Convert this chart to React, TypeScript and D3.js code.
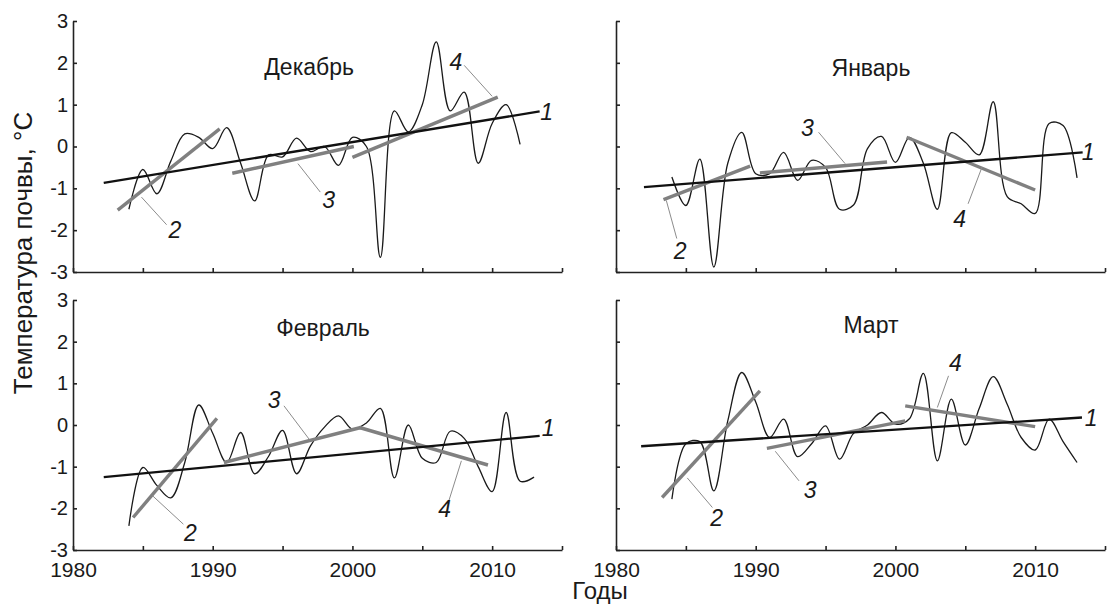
import React, { useEffect, useRef } from 'react';
import * as d3 from 'd3';

const YEARS = [
  1984, 1985, 1986, 1987, 1988, 1989, 1990, 1991, 1992, 1993,
  1994, 1995, 1996, 1997, 1998, 1999, 2000, 2001, 2002, 2003,
  2004, 2005, 2006, 2007, 2008, 2009, 2010, 2011, 2012, 2013
];

// soil temperature anomalies, °C (Dec series ends in 2012)
const DEC_VALUES = [
  -1.5, -0.55, -1.13, -0.35, 0.3, 0.22, -0.05, 0.45, -0.4, -1.3,
  -0.2, -0.25, 0.2, -0.12, 0.0, -0.45, 0.22, 0.0, -2.65, 0.85,
  0.35, 1.0, 2.5, 0.85, 1.3, -0.4, 0.55, 1.0, 0.05
];
const JAN_VALUES = [
  -0.73, -1.41, -0.3, -2.88, -0.4, 0.34, -0.65, -0.65, -0.14, -0.81,
  -0.33, -0.5, -1.5, -1.4, -0.05, 0.24, -0.38, 0.22, -0.4, -1.5,
  0.33, 0.1, -0.2, 1.07, -1.2, -1.37, -1.6, 0.55, 0.5, -0.75
];
const FEB_VALUES = [
  -2.42, -1.02, -1.45, -1.75, -0.9, 0.48, -0.2, -0.9, -0.18, -1.17,
  -0.75, -0.13, -1.17, -0.5, -0.05, 0.22, -0.1, 0.05, 0.4, -1.27,
  0.0, -0.8, -0.9, -0.15, -0.32, -1.0, -1.6, 0.3, -1.35, -1.25
];
const MAR_VALUES = [
  -1.78, -0.45, -0.4, -1.58, 0.1, 1.26, 0.55, -0.3, 0.14, -0.76,
  -0.45, -0.02, -0.82, -0.2, 0.0, 0.3, 0.02, 0.15, 1.24, -0.86,
  0.62, -0.48, 0.4, 1.16, 0.5, -0.3, -0.6, 0.14, -0.4, -0.9
];

// trends: [year1, value1, year2, value2]; first is the whole-period trend (1)
const DEC_TRENDS = [
  [1982.2, -0.87, 2013.4, 0.84],
  [1983.2, -1.52, 1990.5, 0.42],
  [1991.4, -0.64, 2000.1, 0.0],
  [2000.0, -0.26, 2010.4, 1.18]
];
const JAN_TRENDS = [
  [1982.0, -0.97, 2013.4, -0.14],
  [1983.4, -1.27, 1989.6, -0.47],
  [1990.3, -0.63, 1999.4, -0.37],
  [2000.8, 0.22, 2010.0, -1.04]
];
const FEB_TRENDS = [
  [1982.2, -1.25, 2013.4, -0.26],
  [1984.3, -2.22, 1990.3, 0.16],
  [1990.8, -0.9, 2000.6, -0.06],
  [2000.5, -0.06, 2009.7, -0.96]
];
const MAR_TRENDS = [
  [1981.8, -0.51, 2013.35, 0.18],
  [1983.3, -1.74, 1990.3, 0.82],
  [1990.8, -0.56, 2000.7, 0.1],
  [2000.7, 0.46, 2010.0, -0.04]
];

// number labels: [text, year, value, leader (year1, value1, year2, value2) or null]
const DEC_LABELS = [
  ['1', 2013.9, 0.82, null],
  ['2', 1987.3, -2.0, [1984.9, -1.21, 1986.7, -1.87]],
  ['3', 1998.3, -1.28, [1996.1, -0.41, 1997.7, -1.09]],
  ['4', 2007.4, 2.02, [2008.0, 1.94, 2010.0, 1.2]]
];
const JAN_LABELS = [
  ['1', 2013.8, -0.14, null],
  ['2', 1984.6, -2.49, [1983.6, -1.29, 1984.35, -2.2]],
  ['3', 1993.7, 0.45, [1994.5, 0.34, 1996.4, -0.41]],
  ['4', 2004.6, -1.73, [2005.2, -1.37, 2006.2, -0.49]]
];
const FEB_LABELS = [
  ['1', 2014.0, -0.06, null],
  ['2', 1988.4, -2.58, [1985.7, -1.7, 1987.9, -2.38]],
  ['3', 1994.4, 0.59, [1995.1, 0.46, 1996.9, -0.34]],
  ['4', 2006.6, -2.02, [2006.9, -1.82, 2007.8, -0.86]]
];
const MAR_LABELS = [
  ['1', 2014.0, 0.18, null],
  ['2', 1987.2, -2.23, [1985.1, -1.27, 1986.9, -1.98]],
  ['3', 1993.9, -1.56, [1991.4, -0.63, 1993.1, -1.34]],
  ['4', 2004.3, 1.5, [2003.8, 1.18, 2003.0, 0.42]]
];

const MONTHS = ['Декабрь', 'Январь', 'Февраль', 'Март'];
const Y_TICKS = [-3, -2, -1, 0, 1, 2, 3];
const X_TICKS = [1980, 1985, 1990, 1995, 2000, 2005, 2010, 2015];
const X_LABELED = [1980, 1990, 2000, 2010];

const FONT = "'Liberation Sans', Arial, sans-serif";
const NARROW = "'Liberation Sans Narrow', 'Arial Narrow', 'Liberation Sans', sans-serif";

const PANELS = [
  { values: DEC_VALUES, trends: DEC_TRENDS, labels: DEC_LABELS, x0: 73, x1: 562, yb: 272, yt: 21, showX: false, showY: true, title: [1996.9, 1.9] },
  { values: JAN_VALUES, trends: JAN_TRENDS, labels: JAN_LABELS, x0: 616, x1: 1105, yb: 272, yt: 21, showX: false, showY: false, title: [1998.25, 1.87] },
  { values: FEB_VALUES, trends: FEB_TRENDS, labels: FEB_LABELS, x0: 73, x1: 562, yb: 550, yt: 300, showX: true, showY: true, title: [1997.9, 2.34] },
  { values: MAR_VALUES, trends: MAR_TRENDS, labels: MAR_LABELS, x0: 616, x1: 1105, yb: 550, yt: 300, showX: true, showY: false, title: [1998.25, 2.41] }
];

export default function App() {
  const svgRef = useRef<SVGSVGElement>(null);

  useEffect(() => {
    if (!svgRef.current) return;
    const svg = d3.select(svgRef.current);
    svg.selectAll('*').remove();

    PANELS.forEach((p, i) => {
      const g = svg.append('g');
      const x = d3.scaleLinear().domain([1980, 2015]).range([p.x0, p.x1]);
      const y = d3.scaleLinear().domain([-3, 3]).range([p.yb, p.yt]);

      const yAxis = d3.axisLeft(y)
        .tickValues(Y_TICKS)
        .tickSize(-4)
        .tickSizeOuter(0)
        .tickPadding(5)
        .tickFormat(d => (p.showY ? String(d) : ''));
      const xAxis = d3.axisBottom(x)
        .tickValues(X_TICKS)
        .tickSize(-4)
        .tickSizeOuter(0)
        .tickPadding(12)
        .tickFormat(d => (p.showX && X_LABELED.includes(+d) ? String(d) : ''));

      const ay = g.append('g').attr('transform', `translate(${p.x0},0)`).call(yAxis);
      const ax = g.append('g').attr('transform', `translate(0,${p.yb})`).call(xAxis);
      [ay, ax].forEach(a => {
        a.selectAll('.domain, .tick line').attr('stroke', '#222').attr('stroke-width', 1.6);
        a.selectAll('text').attr('font-family', NARROW).attr('fill', '#1a1a1a');
      });
      ay.selectAll('text').attr('font-size', 20);
      ax.selectAll('text').attr('font-size', 21);

      // smoothed yearly series
      const line = d3.line<number>()
        .x((_, k) => x(YEARS[k]))
        .y(d => y(d))
        .curve(d3.curveCatmullRom.alpha(0.5));
      g.append('path')
        .datum(p.values)
        .attr('fill', 'none')
        .attr('stroke', '#1a1a1a')
        .attr('stroke-width', 1.3)
        .attr('d', line);

      // partial trends (gray) then the overall trend (black)
      p.trends.slice(1).forEach(t => {
        g.append('line')
          .attr('x1', x(t[0])).attr('y1', y(t[1]))
          .attr('x2', x(t[2])).attr('y2', y(t[3]))
          .attr('stroke', '#808080')
          .attr('stroke-width', 3.4);
      });
      const t1 = p.trends[0];
      g.append('line')
        .attr('x1', x(t1[0])).attr('y1', y(t1[1]))
        .attr('x2', x(t1[2])).attr('y2', y(t1[3]))
        .attr('stroke', '#111')
        .attr('stroke-width', 2.3);

      p.labels.forEach(([txt, lx, ly, leader]: any) => {
        if (leader) {
          g.append('line')
            .attr('x1', x(leader[0])).attr('y1', y(leader[1]))
            .attr('x2', x(leader[2])).attr('y2', y(leader[3]))
            .attr('stroke', '#8c8c8c')
            .attr('stroke-width', 1);
        }
        g.append('text')
          .attr('x', x(lx))
          .attr('y', y(ly))
          .attr('dy', '0.35em')
          .attr('text-anchor', 'middle')
          .attr('font-family', FONT)
          .attr('font-style', 'italic')
          .attr('font-size', 23)
          .attr('fill', '#1a1a1a')
          .text(txt);
      });

      g.append('text')
        .attr('x', x(p.title[0]))
        .attr('y', y(p.title[1]))
        .attr('dy', '0.35em')
        .attr('text-anchor', 'middle')
        .attr('font-family', FONT)
        .attr('font-size', 23)
        .attr('fill', '#1a1a1a')
        .text(MONTHS[i]);
    });

    svg.append('text')
      .attr('transform', 'translate(32,253) rotate(-90)')
      .attr('text-anchor', 'middle')
      .attr('font-family', FONT)
      .attr('font-size', 26)
      .attr('fill', '#1a1a1a')
      .text('Температура почвы, °C');

    svg.append('text')
      .attr('x', 600)
      .attr('y', 599)
      .attr('text-anchor', 'middle')
      .attr('font-family', NARROW)
      .attr('font-size', 24)
      .attr('fill', '#1a1a1a')
      .text('Годы');
  }, []);

  return (
    <svg
      ref={svgRef}
      width={1107}
      height={604}
      style={{ position: 'absolute', left: 0, top: 0, background: '#fff' }}
    />
  );
}
